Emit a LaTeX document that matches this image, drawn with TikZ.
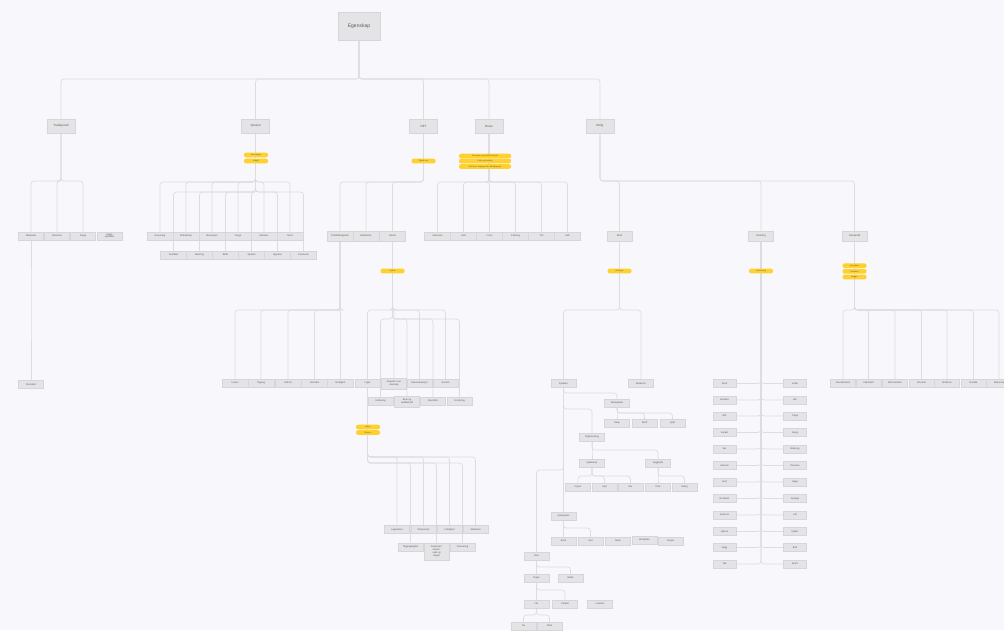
\documentclass[tikz,border=0pt]{standalone}
\usepackage{fontspec}
\setmainfont{Liberation Sans}
\usepackage{tikz}
\usetikzlibrary{positioning}

\definecolor{paper}{HTML}{F8F7FC}
\definecolor{boxfill}{HTML}{E4E4E6}
\definecolor{boxline}{HTML}{D6D6DA}
\definecolor{wirecol}{HTML}{DCDCE1}
\definecolor{tagfill}{HTML}{FFD12E}
\definecolor{ink}{HTML}{5A5A5A}

\pgfdeclarelayer{bg}
\pgfsetlayers{bg,main}

% parent -> child over a bus line at height #3
\newcommand{\drop}[3]{%
  \begin{pgfonlayer}{bg}\draw[wire] (#1.south) -- (#1.south |- 0,#3) -| (#2.north);\end{pgfonlayer}}
% spine -> side box
\newcommand{\side}[2]{%
  \begin{pgfonlayer}{bg}\draw[wire] (#1.south) |- (#2);\end{pgfonlayer}}

\begin{document}
\begin{tikzpicture}[x=1pt, y=-1pt,
  box/.style={draw=boxline, fill=boxfill, line width=0.4pt, minimum width=25,
    minimum height=8, inner sep=0.6, align=center, text=ink,
    font=\fontsize{2.4}{2.8}\selectfont},
  headbox/.style={box, minimum width=28, minimum height=14,
    font=\fontsize{3}{3.6}\selectfont},
  midbox/.style={box, minimum height=9.5, font=\fontsize{2.6}{3}\selectfont},
  rootbox/.style={box, minimum width=42, minimum height=28,
    font=\fontsize{5}{6}\selectfont},
  tag/.style={fill=tagfill, rounded corners=2, minimum width=24,
    minimum height=4.6, inner sep=0, text=ink, font=\fontsize{2}{2.4}\selectfont},
  wire/.style={draw=wirecol, line width=0.7, rounded corners=3}]

  \begin{pgfonlayer}{bg}
    \fill[paper] (0,0) rectangle (1004,630);
  \end{pgfonlayer}
  \useasboundingbox (0,0) rectangle (1004,630);

  \node[rootbox] (root) at (359,26) {Egenskap};

  \node[headbox] (trad)  at (61,126)    {Tradisjonell};
  \node[headbox] (spes)  at (255.5,126) {Spesial};
  \node[headbox] (nft)   at (423.5,126) {NFT};
  \node[headbox] (reise) at (489,126)   {Reise};
  \node[headbox] (bolig) at (600,126)   {Bolig};
  \foreach \n in {trad,spes,nft,reise,bolig} {\drop{root}{\n}{79}}

  % Tradisjonell
  \node[box] (t1) at (31,236)    {Materiale};
  \node[box] (t2) at (57,236)    {Størrelse};
  \node[box] (t3) at (83,236)    {Farge};
  \node[box] (t4) at (109.5,236) {Ingen\\spesifikk};
  \foreach \n in {t1,t2,t3} {\drop{trad}{\n}{181}}
  \node[box] (t11) at (31,384.5) {Standard};
  \drop{t1}{t11}{300}

  % Spesial
  \node[tag] (sptag1) at (256,155) {Kan velges};
  \node[tag] (sptag2) at (256,161) {Valgfri};
  \foreach \x/\n/\t in {160/s1/Gravering,186/s2/Emballasje,212/s3/Monogram,
      238/s4/Farge,264/s5/Mønster,290/s6/Tekst}
    {\node[box, minimum width=26] (\n) at (\x,236) {\t}; \drop{spes}{\n}{182}}
  \foreach \x/\n/\t in {173.5/s7/Sertifikat,199.5/s8/Merking,225.5/s9/Bilde,
      251.5/s10/Symbol,277.5/s11/Signatur,303.5/s12/Kunstverk}
    {\node[box, minimum width=26] (\n) at (\x,255) {\t}; \drop{spes}{\n}{192}}

  % NFT
  \node[tag] (nfttag) at (423.5,161) {Digital eier};
  \node[midbox, minimum width=26] (n1) at (340,236)   {Produktregister};
  \node[midbox, minimum width=26] (n2) at (366,236)   {Eierbevis};
  \node[midbox, minimum width=26] (n3) at (392.5,236) {Annet};
  \foreach \n in {n1,n2,n3} {\drop{nft}{\n}{182}}
  \foreach \x/\n/\t in {235/p1/Lisens,261/p2/Tilgang,288/p3/Unik ID,
      314.5/p4/Historikk,340.5/p5/Rettighet}
    {\node[box, minimum width=26] (\n) at (\x,383) {\t}; \drop{n1}{\n}{310}}
  \node[tag] (n3tag) at (392.5,271) {Fysisk};
  \node[box] (m1) at (367.5,383) {Lager};
  \node[box, minimum height=11] (m2) at (394,383.5) {Register over\\eierskap};
  \node[box] (m3) at (419.5,383) {Dokumentasjon};
  \node[box] (m4) at (445.5,383) {Garanti};
  \foreach \n in {m1,m2,m3,m4} {\drop{n3}{\n}{310}}
  \node[box] (m5) at (380.5,401) {Kvittering};
  \node[box, minimum height=11] (m6) at (407,401.5) {Bruk og\\vedlikehold};
  \node[box] (m7) at (433,401)   {Eierskifte};
  \node[box] (m8) at (459.5,401) {Forsikring};
  \foreach \n in {m5,m6,m7,m8} {\drop{n3}{\n}{319}}

  % Lager
  \node[tag] (lagtag1) at (368,427)   {Intern};
  \node[tag] (lagtag2) at (368,432.5) {Ekstern};
  \foreach \x/\n/\t in {397/g1/Lagerplass,423.5/g2/Temperatur,
      449.5/g3/Fuktighet,475.5/g4/Sikkerhet}
    {\node[box] (\n) at (\x,529.5) {\t}; \drop{m1}{\n}{457}}
  \node[box, anchor=north] (g5) at (410.5,542.5) {Tilgjengelighet};
  \node[box, anchor=north, minimum height=17] (g6) at (436.5,542.5)
    {Kapasitet /\\volum /\\vekt og\\høyde};
  \node[box, anchor=north] (g7) at (462.5,542.5) {Plassering};
  \foreach \n in {g5,g6,g7} {\drop{m1}{\n}{463}}

  % Reise
  \node[tag, minimum width=52] (rtag1) at (485,156)   {Transport av produkt til kunde};
  \node[tag, minimum width=52] (rtag2) at (485,161)   {Frakt og levering};
  \node[tag, minimum width=52] (rtag3) at (485,166.5) {Ved reise: bagasje eller håndbagasje};
  \foreach \x/\n/\t in {437.5/r1/Størrelse,463.5/r2/Vekt,489.5/r3/Form,
      515.5/r4/Pakning,541.5/r5/Toll,567.5/r6/Mål}
    {\node[box, minimum width=26] (\n) at (\x,236) {\t}; \drop{reise}{\n}{182}}

  % Bolig
  \node[midbox] (b1) at (619.5,236) {Rom};
  \node[midbox] (b2) at (761,236)   {Retning};
  \node[midbox] (b3) at (854.5,236) {Interiørstil};
  \foreach \n in {b1,b2,b3} {\drop{bolig}{\n}{181}}
  \node[tag] (b1tag) at (619.5,271) {Romtype};
  \node[tag] (b2tag) at (761,271)   {Orientering};
  \node[tag] (b3tag1) at (854.5,265.7) {Innendørs};
  \node[tag] (b3tag2) at (854.5,271.3) {Utendørs};
  \node[tag] (b3tag3) at (854.5,277)   {Begge};

  % Rom
  \node[box] (k1) at (563.5,383.5) {Kjøkken};
  \node[box] (k2) at (641,383.5)   {Baderom};
  \foreach \n in {k1,k2} {\drop{b1}{\n}{310}}
  \node[box] (ka) at (617,403) {Benkeplate};
  \drop{k1}{ka}{393}
  \foreach \x/\n/\t in {617/ka1/Skap,644.5/ka2/Skuff,672.5/ka3/Hylle}
    {\node[box] (\n) at (\x,423) {\t}; \drop{ka}{\n}{413}}
  \node[box] (kb) at (592,437) {Oppbevaring};
  \drop{k1}{kb}{409}
  \node[box] (kc) at (592,463) {Kjøleskap};
  \node[box] (kd) at (658,463) {Vegghylle};
  \foreach \n in {kc,kd} {\drop{kb}{\n}{450}}
  \foreach \x/\n/\t in {578/kc1/Fryser,604.5/kc2/Kjøl,630.5/kc3/Dør}
    {\node[box] (\n) at (\x,487) {\t}; \drop{kc}{\n}{476}}
  \foreach \x/\n/\t in {658/kd1/Krok,684.5/kd2/Stang}
    {\node[box] (\n) at (\x,487) {\t}; \drop{kd}{\n}{476}}
  \node[box] (ke) at (563.5,516) {Spiseplass};
  \drop{k1}{ke}{500}
  \node[box] (ke1) at (563.5,541) {Bord};
  \node[box] (ke2) at (590.5,541) {Stol};
  \foreach \n in {ke1,ke2} {\drop{ke}{\n}{528}}
  \node[box] (ke3) at (618,541)   {Benk};
  \node[box] (ke4) at (644.5,540) {Bordplate};
  \node[box] (ke5) at (670.5,541) {Lampe};
  \node[box] (kf) at (536.5,556) {Gulv};
  \drop{k1}{kf}{470}
  \node[box] (kf1) at (536.5,578) {Teppe};
  \node[box] (kf2) at (570.5,578) {Matte};
  \foreach \n in {kf1,kf2} {\drop{kf}{\n}{567}}
  \node[box] (kg1) at (536.5,604) {Flis};
  \node[box] (kg2) at (565,604)   {Parkett};
  \foreach \n in {kg1,kg2} {\drop{kf1}{\n}{590}}
  \node[box] (kg3) at (600,604) {Laminat};
  \node[box] (kh1) at (523.5,626) {Tre};
  \node[box] (kh2) at (549.5,626) {Stein};
  \foreach \n in {kh1,kh2} {\drop{kg1}{\n}{615}}

  % Retning
  \foreach \y/\l/\r [count=\i] in {383.5/Nord/Vindu,400/Nordøst/Dør,416/Øst/Trapp,
      432.5/Sørøst/Gang,449/Sør/Balkong,465.5/Sørvest/Terrasse,482/Vest/Hage,
      498.5/Nordvest/Garasje,515/Sentrum/Loft,531.5/Hjørne/Kjeller,
      547.5/Vegg/Bod,564/Tak/Entré}
    {\node[box, minimum width=23] (rl\i) at (724.5,\y) {\l};
     \node[box, minimum width=23] (rr\i) at (795,\y) {\r};
     \side{b2}{rl\i} \side{b2}{rr\i}}

  % Interiørstil
  \foreach \x/\n/\t in {843/st1/Skandinavisk,868.5/st2/Industriell,
      895/st3/Minimalistisk,921.5/st4/Klassisk,947/st5/Moderne,
      973.5/st6/Rustikk,999/st7/Bohemsk}
    {\node[box] (\n) at (\x,383) {\t}; \drop{b3}{\n}{310}}
\end{tikzpicture}
\end{document}
